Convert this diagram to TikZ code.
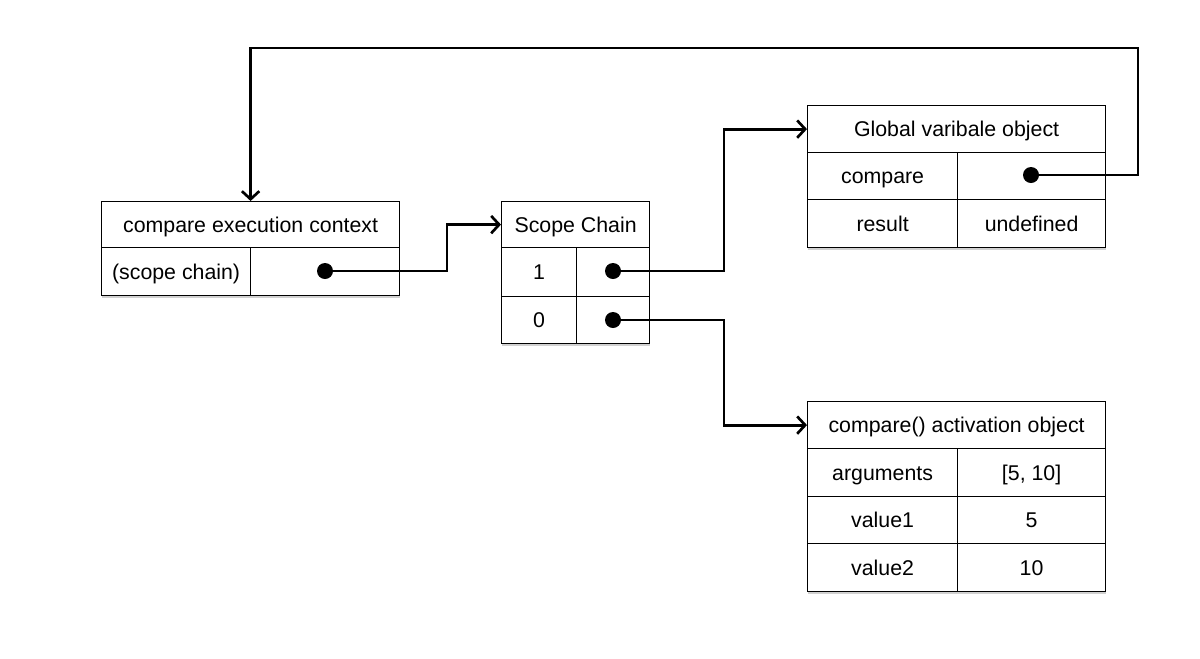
\documentclass[tikz,border=0pt]{standalone}
\usepackage{fontspec}
\setmainfont{Liberation Sans}
\usetikzlibrary{arrows.meta,shadows}
\tikzset{
  cell/.style 2 args={draw=black, line width=0.9pt, anchor=north west, minimum width=#1*0.75pt, minimum height=#2*0.75pt, inner sep=0pt, font=\fontsize{16pt}{19pt}\selectfont, text height=11.5pt, text depth=0pt},
  frame/.style 2 args={anchor=north west, minimum width=#1*0.75pt, minimum height=#2*0.75pt, inner sep=0pt, fill=white, drop shadow={shadow xshift=0.9pt, shadow yshift=-2pt, opacity=0.18, fill=black}},
  dot/.style={circle, fill=black, minimum size=12pt, inner sep=0pt},
  conn/.style={line width=2.2pt, draw=black, line join=miter},
  arr/.style={conn, -{Straight Barb[length=6pt, width=13pt, line width=2pt]}}
}
\begin{document}
\begin{tikzpicture}[x=0.75pt, y=-0.75pt]
\useasboundingbox (0,0) rectangle (1200,658);
% frames with shadows
\node[frame={298}{94}] (ctxf) at (101,201) {};
\node[frame={148}{142}] (scf) at (501,201) {};
\node[frame={298}{142}] (gf) at (807,105) {};
\node[frame={298}{190}] (af) at (807,401) {};
% compare execution context
\node[cell={298}{46}] (ctxh) at (101,201) {compare execution context};
\node[cell={149}{48}] (ctxk) at (101,247) {(scope chain)};
\node[cell={149}{48}] (ctxv) at (250,247) {};
% scope chain
\node[cell={148}{46}] (sch) at (501,201) {Scope Chain};
\node[cell={75}{49}] (sc1k) at (501,247) {1};
\node[cell={73}{49}] (sc1v) at (576,247) {};
\node[cell={75}{47}] (sc0k) at (501,296) {0};
\node[cell={73}{47}] (sc0v) at (576,296) {};
% global variable object
\node[cell={298}{47}] (gh) at (807,105) {Global varibale object};
\node[cell={150}{47}] (gck) at (807,152) {compare};
\node[cell={148}{47}] (gcv) at (957,152) {};
\node[cell={150}{48}] (grk) at (807,199) {result};
\node[cell={148}{48}] (grv) at (957,199) {undefined};
% activation object
\node[cell={298}{47}] (ah) at (807,401) {compare() activation object};
\node[cell={150}{48}] (aak) at (807,448) {arguments};
\node[cell={148}{48}] (aav) at (957,448) {[5, 10]};
\node[cell={150}{47}] (a1k) at (807,496) {value1};
\node[cell={148}{47}] (a1v) at (957,496) {5};
\node[cell={150}{48}] (a2k) at (807,543) {value2};
\node[cell={148}{48}] (a2v) at (957,543) {10};
% dots
\node[dot] (ctxd) at (325,271) {};
\node[dot] (sc1d) at (613,271) {};
\node[dot] (sc0d) at (613,320) {};
\node[dot] (gd) at (1031,175) {};
% connectors
\draw[arr] (ctxd.center) -- ++(122,0) |- (sch.west);
\draw[arr] (sc1d.center) -- ++(111,0) |- (gh.west);
\draw[arr] (sc0d.center) -- ++(111,0) |- (ah.west);
\draw[arr] (gd.center) -- ++(107,0) -- ++(0,-127) -| (ctxh.north);
\end{tikzpicture}
\end{document}
